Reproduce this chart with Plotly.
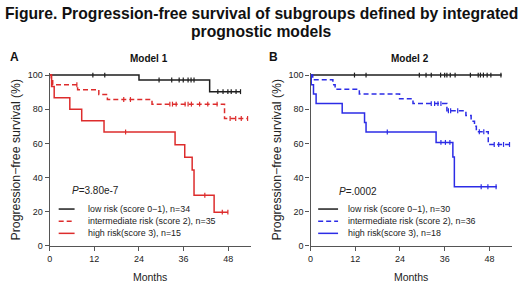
import plotly.graph_objects as go

W, H = 520, 285
FONT = "Liberation Sans, Arial, sans-serif"

# ---------------- data ----------------
title_lines = ["Figure. Progression-free survival of subgroups defined by integrated",
               "prognostic models"]
panel_letters = ["A", "B"]
panel_titles = ["Model 1", "Model 2"]
p_values = ["<i>P</i>=3.80e-7", "<i>P</i>=.0002"]
month_ticks = [0, 12, 24, 36, 48]
surv_ticks = [0, 20, 40, 60, 80, 100]
x_title = "Months"
y_title = "Progression\u2212free survival (%)"

# Model 1
a_names = ["low risk (score 0\u22121), n=34", "intermediate risk (score 2), n=35", "high risk(score 3), n=15"]
a_low_t = [0, 24.0, 43.0, 51.3]
a_low_s = [100, 97.1, 90.3, 90.3]
a_low_c = [11.6, 14.8, 29.4, 32.8, 34.8, 35.9, 37.2, 38.0, 38.8, 45.2, 46.6, 47.9, 48.8, 50.1, 51.3]
a_int_t = [0, 0.4, 0.8, 7.5, 13.2, 15.5, 27.5, 47.0, 53.2]
a_int_s = [100, 97.1, 94.3, 91.4, 88.6, 85.7, 83.0, 74.6, 74.6]
a_int_c = [7.3, 19.9, 21.7, 32.3, 33.0, 34.0, 36.4, 37.2, 38.1, 40.3, 42.5, 45.0, 48.5, 50.0, 51.5, 53.2]
a_high_t = [0, 0.5, 1.2, 5.4, 8.6, 14.6, 33.7, 36.3, 38.3, 38.8, 44.2, 47.9]
a_high_s = [100, 93.3, 86.7, 80.0, 73.3, 66.7, 59.3, 51.9, 44.5, 29.7, 19.8, 19.8]
a_high_c = [20.4, 41.7, 46.4, 47.9]

# Model 2
b_names = ["low risk (score 0\u22121), n=30", "intermediate risk (score 2), n=36", "high risk(score 3), n=18"]
b_low_t = [0, 51.3]
b_low_s = [100, 100]
b_low_c = [11.8, 14.9, 29.2, 31.0, 32.4, 34.9, 36.0, 36.6, 37.5, 38.8, 42.9, 45.0, 45.6, 46.4, 47.4, 48.4, 51.1]
b_int_t = [0, 0.6, 6.0, 6.6, 13.1, 23.9, 27.5, 36.6, 41.7, 43.1, 44.0, 44.5, 47.7, 53.5]
b_int_s = [100, 97.2, 94.4, 91.7, 88.9, 86.1, 83.3, 79.1, 76.3, 73.0, 70.0, 66.8, 59.4, 59.4]
b_int_c = [32.4, 33.3, 34.2, 35.0, 37.0, 37.6, 39.5, 45.3, 46.5, 49.3, 50.5, 51.8, 53.4]
b_high_t = [0, 0.2, 0.8, 1.5, 8.5, 14.5, 14.9, 33.7, 38.2, 38.6, 50.0]
b_high_s = [100, 94.4, 88.9, 83.3, 77.8, 72.2, 66.7, 60.6, 52.0, 34.7, 34.7]
b_high_c = [20.6, 35.0, 36.2, 37.4, 45.8, 47.6, 49.8]

# ---------------- style ----------------
BLACK = "#1e1e1e"
RED = "#dd2c2c"
BLUE = "#2c2ce6"
AXIS = "#555555"
TXT = "#222222"
DASH = "5px,3px"


def step_at(ts, ss, t):
    v = ss[0]
    for ti, si in zip(ts, ss):
        if ti <= t:
            v = si
    return v


def px(xp):
    return xp / W


def py(yp):
    return 1 - yp / H


fig = go.Figure()

panels = [
    dict(xa="x", ya="y", names=a_names, colors=[BLACK, RED, RED],
         series=[(a_low_t, a_low_s, a_low_c), (a_int_t, a_int_s, a_int_c), (a_high_t, a_high_s, a_high_c)]),
    dict(xa="x2", ya="y2", names=b_names, colors=[BLACK, BLUE, BLUE],
         series=[(b_low_t, b_low_s, b_low_c), (b_int_t, b_int_s, b_int_c), (b_high_t, b_high_s, b_high_c)]),
]
dashes = ["solid", DASH, "solid"]

for p in panels:
    for (t, s, c), name, col, dash in zip(p["series"], p["names"], p["colors"], dashes):
        fig.add_trace(go.Scatter(x=t, y=s, mode="lines", line=dict(shape="hv", color=col, width=1.5, dash=dash),
                                 name=name, xaxis=p["xa"], yaxis=p["ya"], showlegend=False, hoverinfo="skip"))
        fig.add_trace(go.Scatter(x=c, y=[step_at(t, s, ci) for ci in c], mode="markers",
                                 marker=dict(symbol="line-ns-open", size=3.5, color=col, line=dict(width=1.2, color=col)),
                                 xaxis=p["xa"], yaxis=p["ya"], showlegend=False, cliponaxis=False, hoverinfo="skip"))

# axes
x_domains = [[47 / W, 249 / W], [309.3 / W, 511.7 / W]]
y_domain = [py(250), py(72.4)]
common_x = dict(range=[0, 54], tickvals=month_ticks, ticks="outside", ticklen=4, tickwidth=1.2, tickcolor=AXIS,
                showline=True, linecolor=AXIS, linewidth=1.4, showgrid=False, zeroline=False,
                tickfont=dict(size=9, color=TXT, family=FONT),
                title=dict(text=x_title, font=dict(size=10.5, color=TXT, family=FONT), standoff=10))
common_y = dict(range=[0, 101], tickvals=surv_ticks, ticks="outside", ticklen=4, tickwidth=1.2, tickcolor=AXIS,
                showline=True, linecolor=AXIS, linewidth=1.4, showgrid=False, zeroline=False,
                tickfont=dict(size=9, color=TXT, family=FONT),
                title=dict(text=y_title, font=dict(size=12.3, color=TXT, family=FONT), standoff=4))

fig.update_layout(
    width=W, height=H, autosize=False,
    margin=dict(l=0, r=0, t=0, b=0),
    paper_bgcolor="white", plot_bgcolor="white",
    font=dict(family=FONT, color=TXT),
    xaxis=dict(domain=x_domains[0], anchor="y", **common_x),
    yaxis=dict(domain=y_domain, anchor="x", **common_y),
    xaxis2=dict(domain=x_domains[1], anchor="y2", **common_x),
    yaxis2=dict(domain=y_domain, anchor="x2", **common_y),
)

ann = []
# title
ann.append(dict(text="<b>%s</b>" % title_lines[0], x=0.5, y=py(11), xref="paper", yref="paper",
                showarrow=False, xanchor="center", yanchor="middle", font=dict(size=15.7, color="#111", family=FONT)))
ann.append(dict(text="<b>%s</b>" % title_lines[1], x=0.5, y=py(29), xref="paper", yref="paper",
                showarrow=False, xanchor="center", yanchor="middle", font=dict(size=15.7, color="#111", family=FONT)))
# panel letters / titles
for letter, lx, ttl, tx in zip(panel_letters, [12, 272], panel_titles, [147, 409.5]):
    ann.append(dict(text="<b>%s</b>" % letter, x=px(lx), y=py(56), xref="paper", yref="paper", showarrow=False,
                    xanchor="center", yanchor="middle", font=dict(size=12, color="#111", family=FONT)))
    ann.append(dict(text="<b>%s</b>" % ttl, x=px(tx), y=py(57), xref="paper", yref="paper", showarrow=False,
                    xanchor="center", yanchor="middle", font=dict(size=10, color="#111", family=FONT)))
# p values
for pv, x0, y0 in zip(p_values, [67, 336], [193, 194]):
    ann.append(dict(text=pv, x=px(x0), y=py(y0), xref="paper", yref="paper", showarrow=False,
                    xanchor="left", yanchor="middle", font=dict(size=10, color=TXT, family=FONT)))

# legends
shapes = []
leg_rows = [212, 224.5, 237]
for p, (lx0, lx1, tx) in zip(panels, [(56, 72, 83), (317, 337, 345)]):
    for name, col, dash, yy in zip(p["names"], p["colors"], dashes, leg_rows):
        shapes.append(dict(type="line", xref="paper", yref="paper", x0=px(lx0), x1=px(lx1), y0=py(yy), y1=py(yy),
                           line=dict(color=col, width=1.5, dash=dash)))
        ann.append(dict(text=name, x=px(tx), y=py(yy), xref="paper", yref="paper", showarrow=False,
                        xanchor="left", yanchor="middle", font=dict(size=8.9, color=TXT, family=FONT)))

fig.update_layout(annotations=ann, shapes=shapes)
fig.write_html("out.html", config={"displayModeBar": False},
               post_script="document.body.style.margin='0';document.body.style.overflow='hidden';")
